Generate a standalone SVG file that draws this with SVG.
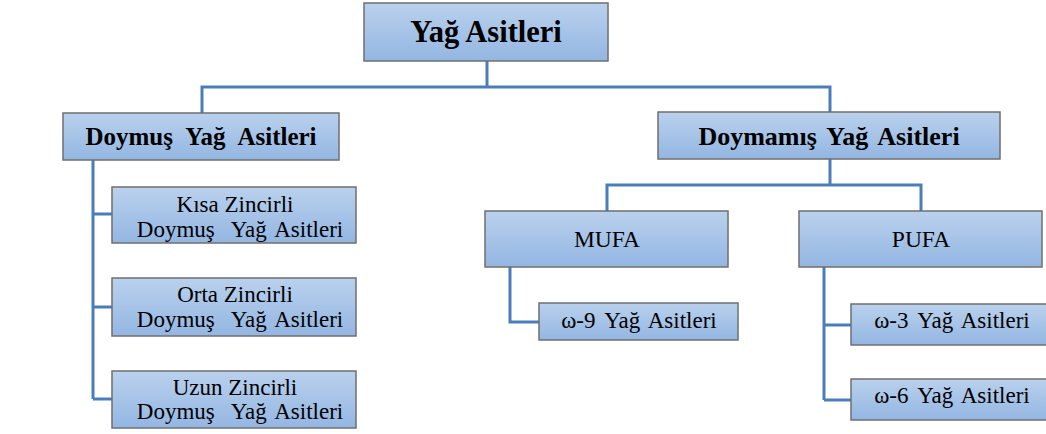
<svg xmlns="http://www.w3.org/2000/svg" width="1046" height="434" viewBox="0 0 1046 434">
<defs>
<linearGradient id="g" x1="0" y1="0" x2="0" y2="1">
<stop offset="0" stop-color="#bad1ed"/>
<stop offset="1" stop-color="#93b6e2"/>
</linearGradient>
<style>
.box{fill:url(#g);stroke:#6f6f6f;stroke-width:1.5}
.c{fill:none;stroke:#4a7ebb;stroke-width:3}
text{font-family:"Liberation Serif","Times New Roman",serif;fill:#000;text-anchor:middle}
.b{font-weight:bold}
.s{font-size:23px}
.o{font-size:23px;word-spacing:3px}
</style>
</defs>
<rect width="1046" height="434" fill="#fff"/>
<g id="connectors">
<path class="c" d="M487 61V87M202 113V87H830V112"/>
<path class="c" d="M93 160V399M93 214H112M93 307H112M93 399H112"/>
<path class="c" d="M830 159V185M607 211V185H921V211"/>
<path class="c" d="M510 267V322H539"/>
<path class="c" d="M824 267V400M824 325H851M824 400H851"/>
</g>
<g id="root">
<rect class="box" x="364" y="3" width="244" height="58"/>
<text class="b" x="486" y="42" font-size="30.5">Yağ Asitleri</text>
</g>
<g id="doymus">
<rect class="box" x="63" y="113" width="276" height="47"/>
<text class="b" x="201" y="145" font-size="25" word-spacing="7">Doymuş Yağ Asitleri</text>
</g>
<g id="doymamis">
<rect class="box" x="658" y="112" width="342" height="47"/>
<text class="b" x="829" y="145" font-size="26" word-spacing="4">Doymamış Yağ Asitleri</text>
</g>
<g id="kisa">
<rect class="box" x="112" y="187" width="244" height="56"/>
<text class="s" x="235" y="212">Kısa Zincirli</text>
<text class="s" x="240" y="237" word-spacing="3">Doymuş<tspan dx="16">Yağ Asitleri</tspan></text>
</g>
<g id="orta">
<rect class="box" x="112" y="278" width="244" height="58"/>
<text class="s" x="235" y="302">Orta Zincirli</text>
<text class="s" x="240" y="327" word-spacing="3">Doymuş<tspan dx="16">Yağ Asitleri</tspan></text>
</g>
<g id="uzun">
<rect class="box" x="112" y="371" width="244" height="57"/>
<text class="s" x="235" y="395">Uzun Zincirli</text>
<text class="s" x="240" y="419" word-spacing="3">Doymuş<tspan dx="16">Yağ Asitleri</tspan></text>
</g>
<g id="mufa">
<rect class="box" x="485" y="211" width="243" height="56"/>
<text x="607" y="247" font-size="23.5">MUFA</text>
</g>
<g id="pufa">
<rect class="box" x="799" y="211" width="243" height="56"/>
<text x="921" y="247" font-size="23.5">PUFA</text>
</g>
<g id="omega9">
<rect class="box" x="539" y="303" width="199" height="37"/>
<text class="o" x="639" y="328">ω-9 Yağ Asitleri</text>
</g>
<g id="omega3">
<rect class="box" x="851" y="304" width="200" height="41"/>
<text class="o" x="952" y="328">ω-3 Yağ Asitleri</text>
</g>
<g id="omega6">
<rect class="box" x="851" y="379" width="200" height="41"/>
<text class="o" x="952" y="403">ω-6 Yağ Asitleri</text>
</g>
</svg>
